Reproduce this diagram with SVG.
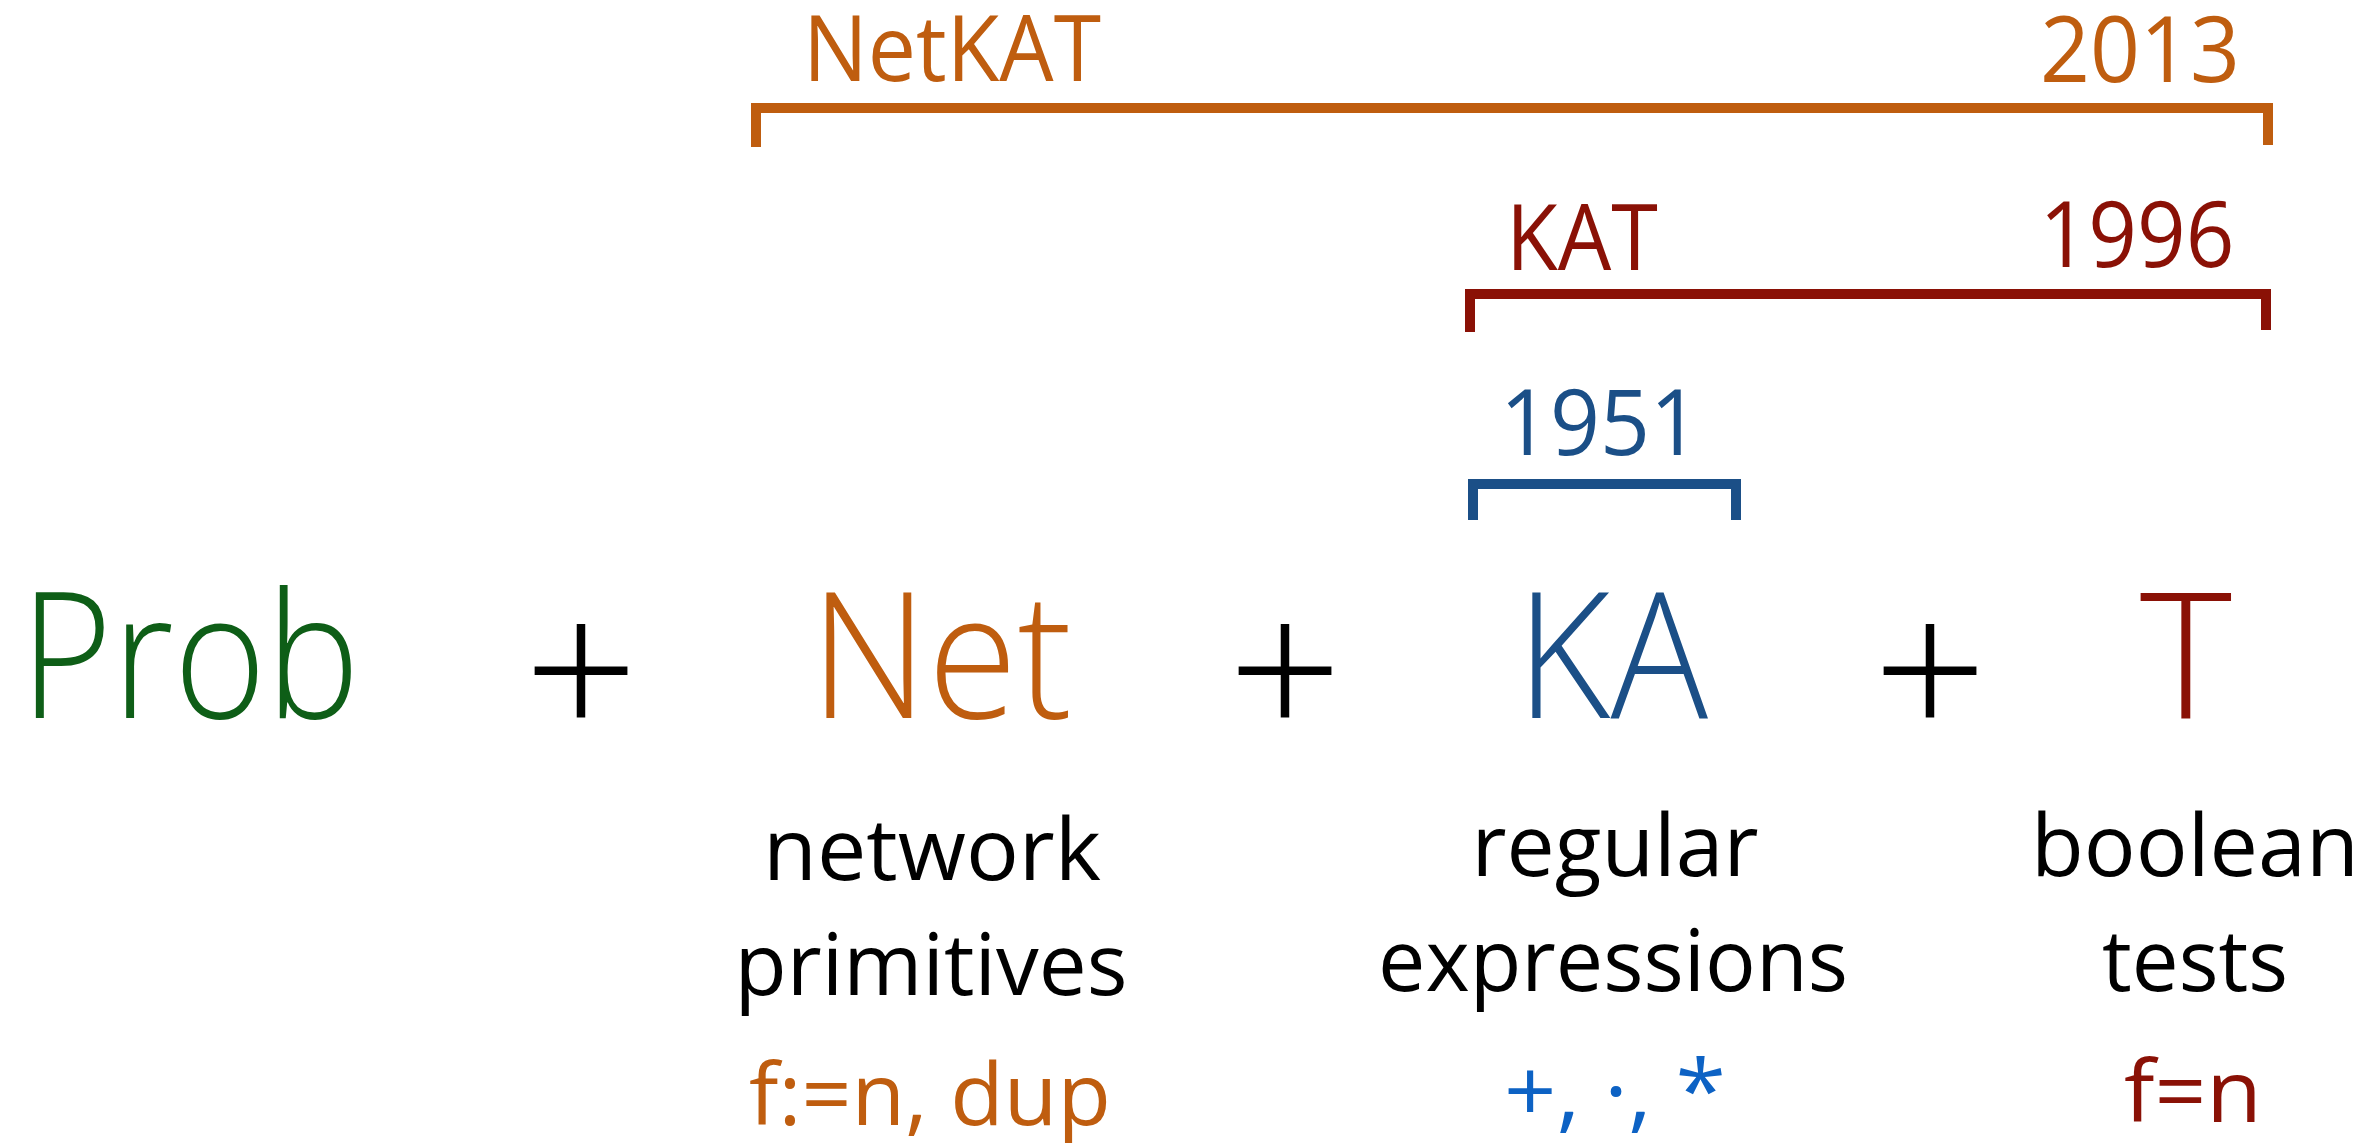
<svg xmlns="http://www.w3.org/2000/svg" width="2380" height="1143" viewBox="0 0 2380 1143">
  <style>
    text { font-family: "Open Sans", "Noto Sans", "Liberation Sans", sans-serif; text-anchor: middle; }
    .big { font-size: 176px; font-weight: 300; }
    .op { font-size: 200px; font-weight: 300; fill: #000; }
    .year { font-size: 91px; font-weight: 400; }
    .desc { font-size: 86px; font-weight: 400; fill: #000; }
    .sym { font-size: 86px; font-weight: 400; }
    .orange { fill: #BF5D0F; }
    .red { fill: #8A1106; }
    .blue { fill: #1B4F87; }
    .green { fill: #0E5E17; }
    .bright { fill: #0D62C4; }
    .bracket { fill: none; stroke-width: 10; stroke-linecap: butt; stroke-linejoin: miter; }
  </style>
  <rect width="2380" height="1143" fill="#fff"/>

  <!-- brackets spanning the components of each calculus -->
  <g id="brackets">
    <path class="bracket" stroke="#BF5D0F" d="M756,147 V108 H2268 V145"/>
    <path class="bracket" stroke="#8A1106" d="M1470,332 V294 H2266 V330"/>
    <path class="bracket" stroke="#1B4F87" d="M1473,520 V484 H1736 V520"/>
  </g>

  <g id="netkat-label">
    <text class="year orange" x="952" y="81" textLength="298" lengthAdjust="spacingAndGlyphs">NetKAT</text>
    <text class="year orange" x="2140" y="82" textLength="200" lengthAdjust="spacingAndGlyphs">2013</text>
  </g>
  <g id="kat-label">
    <text class="year red" x="1582" y="270" textLength="152" lengthAdjust="spacingAndGlyphs">KAT</text>
    <text class="year red" x="2137" y="267" textLength="195" lengthAdjust="spacingAndGlyphs">1996</text>
  </g>
  <g id="ka-label">
    <text class="year blue" x="1600" y="455" textLength="200" lengthAdjust="spacingAndGlyphs">1951</text>
  </g>

  <!-- main formula -->
  <g id="prob">
    <text class="big green" x="190" y="718" textLength="340" lengthAdjust="spacingAndGlyphs">Prob</text>
  </g>
  <g id="net">
    <text class="big orange" x="941" y="718" textLength="262" lengthAdjust="spacingAndGlyphs">Net</text>
    <text class="desc" x="932" y="880" textLength="338" lengthAdjust="spacingAndGlyphs">network</text>
    <text class="desc" x="931" y="995" textLength="393" lengthAdjust="spacingAndGlyphs">primitives</text>
    <text class="sym orange" x="930" y="1125" textLength="362" lengthAdjust="spacingAndGlyphs">f:=n, dup</text>
  </g>
  <g id="ka">
    <text class="big blue" x="1612" y="718" textLength="192" lengthAdjust="spacingAndGlyphs">KA</text>
    <text class="desc" x="1615" y="876" textLength="287" lengthAdjust="spacingAndGlyphs">regular</text>
    <text class="desc" x="1613" y="991" textLength="470" lengthAdjust="spacingAndGlyphs">expressions</text>
    <text class="sym bright" x="1615" y="1122" textLength="222" lengthAdjust="spacingAndGlyphs">+, ·, *</text>
  </g>
  <g id="t">
    <text class="big red" x="2186" y="718">T</text>
    <text class="desc" x="2195" y="876" textLength="328" lengthAdjust="spacingAndGlyphs">boolean</text>
    <text class="desc" x="2195" y="991" textLength="186" lengthAdjust="spacingAndGlyphs">tests</text>
    <text class="sym red" x="2193" y="1122" textLength="138" lengthAdjust="spacingAndGlyphs">f=n</text>
  </g>

  <g id="operators">
    <text class="op" x="581" y="741">+</text>
    <text class="op" x="1285" y="741">+</text>
    <text class="op" x="1930" y="741">+</text>
  </g>
</svg>
